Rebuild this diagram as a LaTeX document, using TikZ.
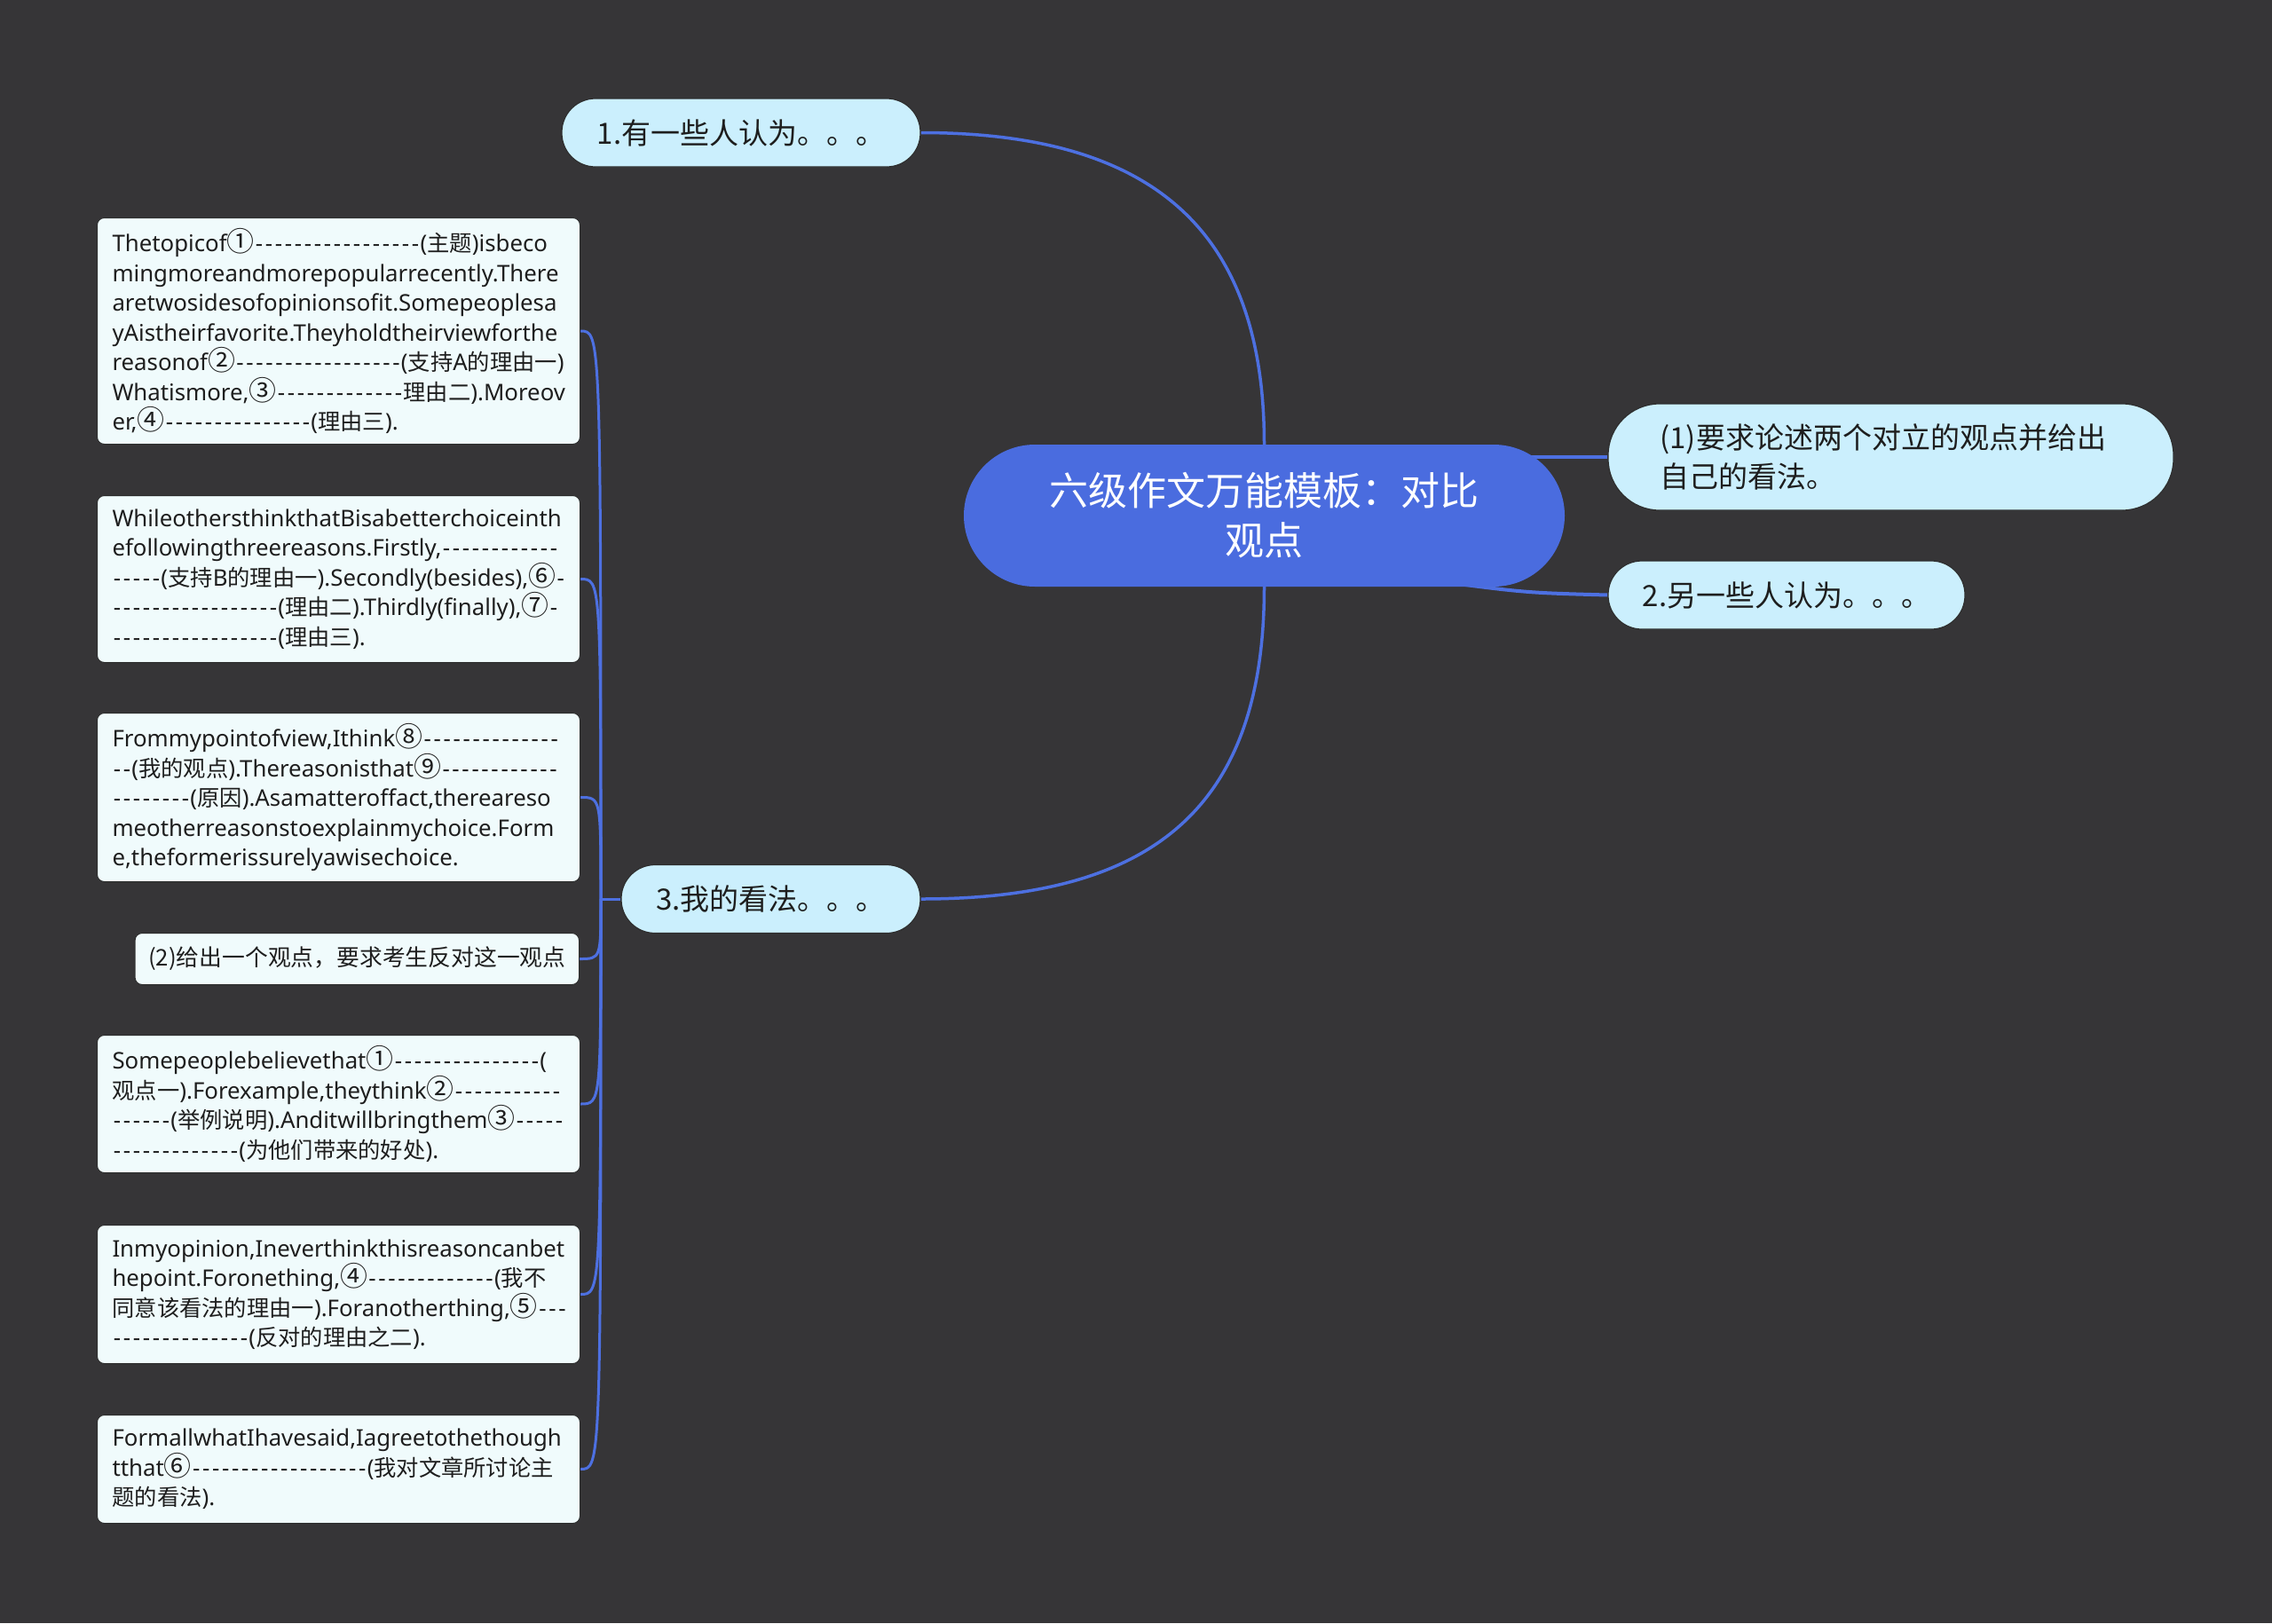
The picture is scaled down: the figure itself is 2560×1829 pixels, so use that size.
\documentclass[tikz,border=0pt]{standalone}
\usepackage{fontspec}
\setmainfont{Noto Sans}[Ligatures=TeXOff]
\newfontfamily\cjk{Noto Sans CJK SC}[Ligatures=TeXOff]
\newfontfamily\cjksm{Noto Sans CJK SC}[Ligatures=TeXOff,Scale=0.98]
\newfontfamily\cjkbig{Noto Sans CJK SC}[Ligatures=TeXOff,Scale=1.2]
\definecolor{bgc}{HTML}{363537}
\definecolor{rootblue}{HTML}{4A6CDF}
\definecolor{lineblue}{HTML}{4D70E1}
\definecolor{lightnode}{HTML}{CBEFFD}
\definecolor{leafbox}{HTML}{F0FBFC}
\definecolor{txt}{HTML}{1E1E1E}
\definecolor{nodeedge}{HTML}{2E2E2E}
\newcount\dshc
\newcommand\dsh[1]{\dshc=0 \loop\ifnum\dshc<#1 \makebox[11pt]{-}\advance\dshc by 1 \repeat}
\newcommand\zh[1]{{\cjksm #1}}
\newcommand\cd[1]{{\cjkbig #1}}
\pgfdeclarelayer{back}
\pgfsetlayers{back,main}
\tikzset{
  pill/.style={fill=lightnode, draw=nodeedge, line width=1.2pt, text=txt,
    font=\cjk\fontsize{33pt}{44pt}\selectfont, inner sep=0pt, rounded corners=38pt,
    minimum height=77pt},
  rootst/.style={fill=rootblue, text=white, rounded corners=80pt, minimum width=677pt,
    minimum height=160pt, align=center, font=\cjk\fontsize{44pt}{56pt}\selectfont, inner sep=0pt},
  leaf/.style={fill=leafbox, draw=nodeedge, line width=1pt, rounded corners=8pt, text=txt, anchor=north west,
    text width=510pt, inner xsep=17pt, inner ysep=0pt, align=left,
    font=\fontsize{25.8pt}{33.5pt}\selectfont},
  conn/.style={draw=lineblue, line width=3.5pt},
  brk/.style={draw=lineblue, line width=3pt},
}
\begin{document}
\begin{tikzpicture}[x=1pt,y=-1pt]
\begin{pgfonlayer}{back}
\fill[bgc] (0,0) rectangle (2560,1829);
\end{pgfonlayer}
\useasboundingbox (0,0) rectangle (2560,1829);

% main nodes
\node[rootst] (root) at (1424.5,581) {六级作文万能模板：对比\\观点};
\node[pill, minimum width=404pt] (n1) at (835,149.5) {1.有一些人认为。。。};
\node[pill, rounded corners=58pt, minimum height=120pt, text width=520pt, inner xsep=58.5pt, align=left] (r1) at (2130.5,515) {(1)要求论述两个对立的观点并给出\\自己的看法。};
\node[pill, minimum width=402pt] (r2) at (2013,670.5) {2.另一些人认为。。。};
\node[pill, minimum width=337pt] (n3) at (868.5,1013) {3.我的看法。。。};

% leaf boxes
\node[leaf, minimum height=255pt] (l1) at (109,245) {Thetopicof\cd{①}\dsh{17}(\zh{主题})isbeco\\
mingmoreandmorepopularrecently.There\\
aretwosidesofopinionsofit.Somepeoplesa\\
yAistheirfavorite.Theyholdtheirviewforthe\\
reasonof\cd{②}\dsh{17}(\zh{支持}A\zh{的理由一})\\
Whatismore,\cd{③}\dsh{13}\zh{理由二}).Moreov\\
er,\cd{④}\dsh{15}(\zh{理由三}).};

\node[leaf, minimum height=188pt] (l2) at (109,558) {WhileothersthinkthatBisabetterchoiceinth\\
efollowingthreereasons.Firstly,\dsh{12}\\
\dsh{5}(\zh{支持}B\zh{的理由一}).Secondly(besides),\cd{⑥}\dsh{1}\\
\dsh{17}(\zh{理由二}).Thirdly(finally),\cd{⑦}\dsh{1}\\
\dsh{17}(\zh{理由三}).};

\node[leaf, minimum height=190pt] (l3) at (109,803) {Frommypointofview,Ithink\cd{⑧}\dsh{14}\\
\dsh{2}(\zh{我的观点}).Thereasonisthat\cd{⑨}\dsh{12}\\
\dsh{8}(\zh{原因}).Asamatteroffact,thereareso\\
meotherreasonstoexplainmychoice.Form\\
e,theformerissurelyawisechoice.};

\node[fill=leafbox, draw=nodeedge, line width=1pt, rounded corners=8pt, text=txt, anchor=north east,
  inner xsep=15pt, inner ysep=0pt, minimum height=58pt,
  font=\cjk\fontsize{25.8pt}{33.5pt}\selectfont] (l4) at (653,1051) {(2)给出一个观点，要求考生反对这一观点};

\node[leaf, minimum height=155pt] (l5) at (109,1166) {Somepeoplebelievethat\cd{①}\dsh{15}(\\
\zh{观点一}).Forexample,theythink\cd{②}\dsh{11}\\
\dsh{6}(\zh{举例说明}).Anditwillbringthem\cd{③}\dsh{5}\\
\dsh{13}(\zh{为他们带来的好处}).};

\node[leaf, minimum height=156pt] (l6) at (109,1380) {Inmyopinion,Ineverthinkthisreasoncanbet\\
hepoint.Foronething,\cd{④}\dsh{13}(\zh{我不}\\
\zh{同意该看法的理由一}).Foranotherthing,\cd{⑤}\dsh{3}\\
\dsh{14}(\zh{反对的理由之二}).};

\node[leaf, minimum height=122pt] (l7) at (109,1594) {FormallwhatIhavesaid,Iagreetothethough\\
tthat\cd{⑥}\dsh{18}(\zh{我对文章所讨论主}\\
\zh{题的看法}).};

% connectors
\coordinate (jn) at (677,1013);
\coordinate (r2s) at (1620,655);
\begin{pgfonlayer}{back}
\draw[conn] (n1.east) .. controls (1300,149.5) and (1424.5,260) .. (root.north);
\draw[conn] (root.south) .. controls (1424.5,910) and (1300,1013) .. (n3.east);
\draw[conn, line width=4.5pt] (root.center |- r1.west) -- (r1.west);
\draw[conn, line width=4pt] (r2s) .. controls (1720,668) .. (r2.west);
\draw[brk] (n3.west) -- (jn);
\foreach \l in {l1,l2,l3,l4,l5,l6,l7}{
  \draw[brk] (jn) .. controls (jn |- \l.east) and (jn |- \l.east) .. (\l.east);
}
\end{pgfonlayer}
\end{tikzpicture}
\end{document}
